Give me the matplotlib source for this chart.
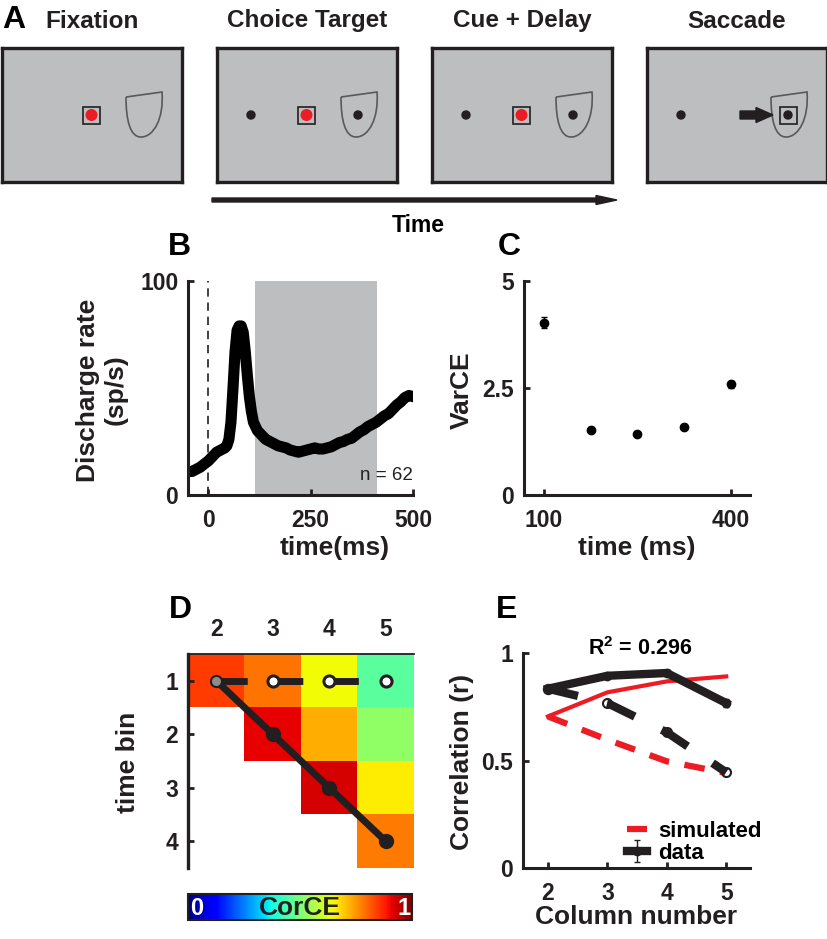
import numpy as np
import matplotlib
matplotlib.use('Agg')
import matplotlib.pyplot as plt
import matplotlib.patches as mpatches
from matplotlib.path import Path

plt.rcParams['font.family'] = ['Liberation Sans', 'DejaVu Sans']
plt.rcParams['font.weight'] = 'bold'
plt.rcParams['mathtext.fontset'] = 'custom'
plt.rcParams['mathtext.bf'] = 'Liberation Sans:bold'
plt.rcParams['mathtext.rm'] = 'Liberation Sans:bold'

W, H = 828, 939
ink = '#231F20'
red = '#ED1C24'
grey_bg = '#BCBEC0'

# ---------------- data ----------------
stage_names = ['Fixation', 'Choice Target', 'Cue + Delay', 'Saccade']
show_fix = [True, True, True, False]
show_targets = [False, True, True, True]
show_saccade = [False, False, False, True]

# B: population discharge rate
t_ms = [-50, -40, -30, -20, -10, 0, 10, 20, 30, 40, 45, 50, 55, 60, 65, 70, 75, 80, 85,
        90, 95, 100, 105, 110, 120, 130, 140, 150, 160, 170, 180, 190, 200, 210, 220,
        230, 240, 250, 260, 270, 280, 290, 300, 310, 320, 330, 340, 350, 360, 370, 380,
        390, 400, 410, 420, 430, 440, 450, 460, 470, 480, 490, 500]
rate = [11, 11, 12, 13, 14.5, 16, 18, 20, 21, 22, 23, 26, 34, 50, 67, 77, 79, 79, 76,
        67, 56, 46, 39, 34, 30, 28, 26, 25, 24, 23, 22.5, 22, 21, 20.5, 20,
        20.5, 21, 21.5, 22, 21.5, 21.5, 22, 22.5, 23.5, 24.5, 25, 26, 26.5, 28, 29.5, 30.5,
        32, 33, 34, 35.5, 37, 38, 40, 42, 43.5, 45.5, 46.5, 46]
n_cells = 62
delay_window = [113, 413]

# C: VarCE
varce_t = [100, 175, 250, 325, 400]
varce = [4.03, 1.53, 1.43, 1.60, 2.59]
varce_err = [0.12, 0.05, 0.05, 0.06, 0.08]

# D: CorCE matrix (time bin x column)
columns = [2, 3, 4, 5]
time_bins = [1, 2, 3, 4]
nan = np.nan
corce = np.array([[0.844, 0.788, 0.642, 0.458],
                  [nan, 0.908, 0.725, 0.525],
                  [nan, nan, 0.925, 0.658],
                  [nan, nan, nan, 0.780]])

# E: correlations
diag_r = [0.834, 0.894, 0.907, 0.767]
diag_err = [0.010, 0.012, 0.015, 0.020]
row1_r = [0.834, 0.767, 0.631, 0.445]
row1_err = [0.010, 0.010, 0.010, 0.018]
sim_diag = [0.705, 0.817, 0.868, 0.891]
sim_row1 = [0.705, 0.597, 0.496, 0.442]
r2_text = r'$\mathbf{R^2}$ = 0.296'


def rect(x0, y0, x1, y1):
    return [x0 / W, 1 - y1 / H, (x1 - x0) / W, (y1 - y0) / H]


def style_axes(ax, lw=2.2):
    for s in ['top', 'right']:
        ax.spines[s].set_visible(False)
    for s in ['left', 'bottom']:
        ax.spines[s].set_linewidth(lw)
        ax.spines[s].set_color(ink)
    ax.tick_params(direction='in', length=4, width=2, colors=ink, labelsize=16.5)


fig = plt.figure(figsize=(W / 100, H / 100), dpi=100)

# overlay in pixel coords for free text and the time arrow (kept on top)
ov = fig.add_axes([0, 0, 1, 1])
ov.set_xlim(0, W)
ov.set_ylim(H, 0)
ov.axis('off')
ov.set_zorder(10)

# ---------------- A ----------------
box_left = [2, 217, 432, 647]
for i, name in enumerate(stage_names):
    ax = fig.add_axes(rect(box_left[i], 48, box_left[i] + 180, 182))
    ax.set_xlim(0, 180)
    ax.set_ylim(134, 0)
    ax.set_facecolor(grey_bg)
    ax.set_xticks([])
    ax.set_yticks([])
    for s in ax.spines.values():
        s.set_linewidth(2.4)
        s.set_color(ink)
    # response field
    verts = [(124, 49), (160, 44), (162, 70), (152, 89), (139, 89),
             (128, 89), (124, 72), (124, 49)]
    codes = [Path.MOVETO, Path.LINETO, Path.CURVE4, Path.CURVE4, Path.CURVE4,
             Path.CURVE4, Path.CURVE4, Path.CURVE4]
    ax.add_patch(mpatches.PathPatch(Path(verts, codes), fill=False, ec='#58595B', lw=1.2))
    if show_targets[i]:
        ax.add_patch(mpatches.Circle((34, 67), 4, color=ink))
        ax.add_patch(mpatches.Circle((141, 67), 4, color=ink))
    if show_fix[i]:
        ax.add_patch(mpatches.Rectangle((81, 58.5), 17, 17, fill=False, ec=ink, lw=1.2))
        ax.add_patch(mpatches.Circle((89.5, 67), 5.3, color=red))
    if show_saccade[i]:
        ax.add_patch(mpatches.Rectangle((133, 58.5), 17, 17, fill=False, ec=ink, lw=1.2))
        ax.add_patch(mpatches.FancyArrow(93, 67, 33, 0, width=8, head_width=15,
                                         head_length=17, length_includes_head=True,
                                         color=ink))
    ov.text(box_left[i] + 90, 21, name, ha='center', va='center', fontsize=17.5, color=ink)

ov.text(14, 20, 'A', ha='center', va='center', fontsize=23, color='black')
ov.add_patch(mpatches.FancyArrow(212, 200, 405, 0, width=4, head_width=9, head_length=21,
                                 length_includes_head=True, color=ink))
ov.text(418, 225, 'Time', ha='center', va='center', fontsize=16.5, color='black')

# ---------------- B ----------------
axB = fig.add_axes(rect(188, 281, 413, 495))
style_axes(axB)
axB.axvspan(delay_window[0], delay_window[1], color=grey_bg, lw=0)
axB.plot([0, 0], [0, 100], color=ink, lw=1.2, dashes=(5, 3.5))
axB.plot(t_ms, rate, color='black', lw=8)
axB.set_xlim(-50, 500)
axB.set_ylim(0, 100)
axB.set_xticks([0, 250, 500])
axB.set_yticks([0, 100])
axB.tick_params(axis='x', pad=10)
axB.tick_params(axis='y', pad=7)
axB.text(1.0, 0.09, 'n = %d' % n_cells, transform=axB.transAxes, ha='right', va='center',
         fontsize=13.5, fontweight='normal', color=ink)
ov.text(179, 247, 'B', ha='center', va='center', fontsize=23, color='black')
ov.text(102, 390, 'Discharge rate\n(sp/s)', rotation=90, ha='center', va='center',
        fontsize=19, color=ink, multialignment='center')
ov.text(335, 548, 'time(ms)', ha='center', va='center', fontsize=19, color=ink)

# ---------------- C ----------------
axC = fig.add_axes(rect(524, 281, 750, 495))
style_axes(axC)
axC.errorbar(varce_t, varce, yerr=varce_err, fmt='o', color='black', ms=6,
             capsize=2.5, elinewidth=1, capthick=1)
axC.set_xlim(68, 431)
axC.set_ylim(0, 5)
axC.set_xticks([100, 400])
axC.set_yticks([0, 2.5, 5])
axC.set_yticklabels(['0', '2.5', '5'])
axC.tick_params(axis='x', pad=10)
axC.tick_params(axis='y', pad=7)
ov.text(509, 247, 'C', ha='center', va='center', fontsize=23, color='black')
ov.text(462, 390, 'VarCE', rotation=90, ha='center', va='center', fontsize=19, color=ink)
ov.text(637, 548, 'time (ms)', ha='center', va='center', fontsize=19, color=ink)

# ---------------- D ----------------
axD = fig.add_axes(rect(188, 654, 414, 868))
im = axD.imshow(corce, cmap='jet', vmin=0, vmax=1, extent=(1.5, 5.5, 4.5, 0.5),
                aspect='auto', interpolation='nearest')
axD.set_xlim(1.5, 5.5)
axD.set_ylim(4.5, 0.5)
for s in ['right', 'bottom']:
    axD.spines[s].set_visible(False)
axD.spines['left'].set_linewidth(2.4)
axD.spines['left'].set_color(ink)
axD.spines['top'].set_linewidth(1.3)
axD.spines['top'].set_color(ink)
axD.xaxis.tick_top()
axD.set_xticks(columns)
axD.set_yticks(time_bins)
axD.tick_params(axis='x', length=0, pad=9, labelsize=16.5, colors=ink)
axD.tick_params(axis='y', direction='in', length=4, width=2, pad=7, labelsize=16.5, colors=ink)

axD.plot(columns, [time_bins[0]] * 4, color=ink, lw=5, dashes=(4.5, 3.5))
axD.plot(columns, time_bins, color=ink, lw=5)
axD.plot(columns[1:], time_bins[1:], 'o', color=ink, ms=10)
axD.plot(columns[:1], time_bins[:1], 'o', mfc='#8C8C8C', mec=ink, mew=1.5, ms=8)
axD.plot(columns[1:], [time_bins[0]] * 3, 'o', mfc='white', mec=ink, mew=2.2, ms=8)
ov.text(180, 610, 'D', ha='center', va='center', fontsize=23, color='black')
ov.text(128, 762, 'time bin', rotation=90, ha='center', va='center', fontsize=19, color=ink)

cax = fig.add_axes(rect(188, 894, 412, 920))
cb = fig.colorbar(im, cax=cax, orientation='horizontal')
cb.set_ticks([])
cb.outline.set_linewidth(1.5)
cb.outline.set_edgecolor(ink)
cax.text(0.5, 0.45, 'CorCE', transform=cax.transAxes, ha='center', va='center',
         fontsize=19, color=ink)
cax.text(0.04, 0.45, '0', transform=cax.transAxes, ha='center', va='center',
         fontsize=17, color='white')
cax.text(0.965, 0.45, '1', transform=cax.transAxes, ha='center', va='center',
         fontsize=17, color='white')

# ---------------- E ----------------
axE = fig.add_axes(rect(523, 653, 750, 868))
style_axes(axE)
hsim, = axE.plot(columns, sim_row1, color=red, lw=4.5, dashes=(3.3, 2.5))
axE.plot(columns, sim_diag, color=red, lw=3)
axE.errorbar(columns, row1_r, yerr=row1_err, color=ink, lw=6, dashes=(3.7, 3.6),
             ecolor=ink, elinewidth=1, capsize=2.5)
hdata = axE.errorbar(columns, diag_r, yerr=diag_err, color=ink, lw=6, marker='o', ms=6,
                     ecolor=ink, elinewidth=1, capsize=2.5)
axE.plot(columns[1:], row1_r[1:], 'o', mfc='white', mec=ink, mew=1.5, ms=6.5)
axE.plot(columns[:1], diag_r[:1], 'o', mfc='#8C8C8C', mec=ink, mew=1.2, ms=7)
axE.set_xlim(1.58, 5.4)
axE.set_ylim(0, 1)
axE.set_xticks(columns)
axE.set_yticks([0, 0.5, 1])
axE.set_yticklabels(['0', '0.5', '1'])
axE.tick_params(axis='x', pad=10)
axE.tick_params(axis='y', pad=7)
ov.text(640, 649, r2_text, ha='center', va='center', fontsize=15.5, color='black')
axE.legend([hsim, hdata], ['simulated', 'data'], loc='lower left',
           bbox_to_anchor=(0.46, 0.02), frameon=False, fontsize=16, handlelength=0.9,
           handletextpad=0.5, labelspacing=0.05, borderpad=0, borderaxespad=0)
ov.text(507, 610, 'E', ha='center', va='center', fontsize=23, color='black')
ov.text(462, 762, 'Correlation (r)', rotation=90, ha='center', va='center',
        fontsize=19, color=ink)
ov.text(636, 917, 'Column number', ha='center', va='center', fontsize=19, color=ink)

fig.savefig('out.png', dpi=100)
